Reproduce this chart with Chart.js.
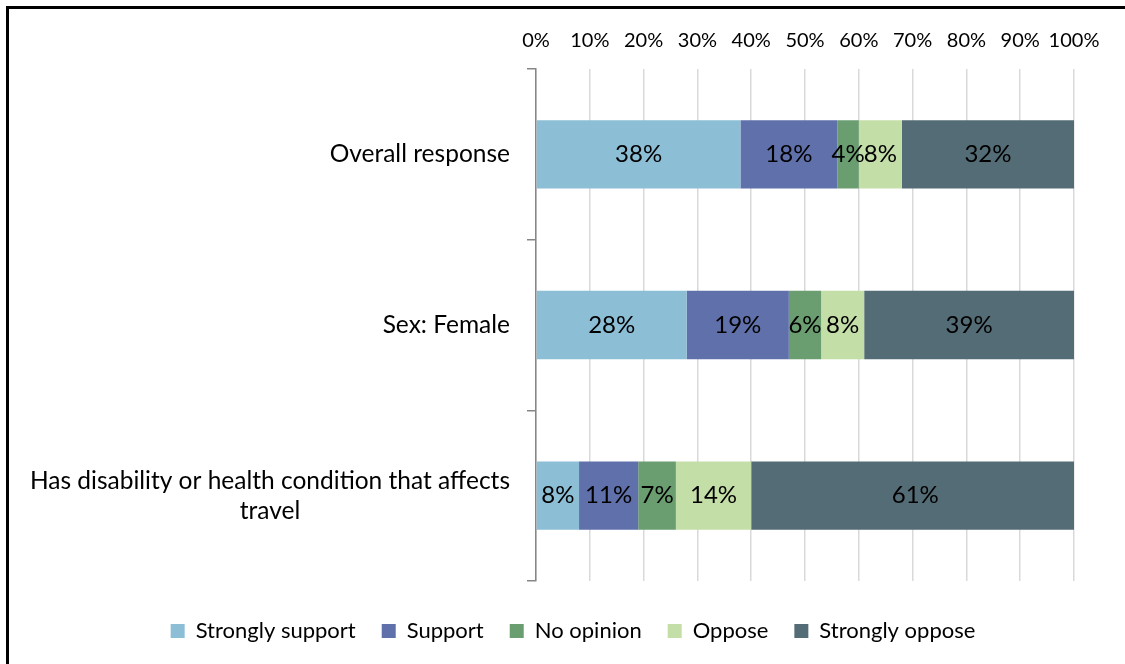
<!DOCTYPE html>
<html>
<head>
<meta charset="utf-8">
<script src="https://cdn.jsdelivr.net/npm/chart.js@4"></script>
<style>
  html, body { margin: 0; padding: 0; background: #fff; overflow: hidden; }
  #wrap { position: relative; width: 1125px; height: 664px; }
  #frame {
    position: absolute; left: 6px; top: 6px; width: 1200px; height: 700px;
    border-left: 3px solid #000; border-top: 3px solid #000;
  }
  canvas { position: absolute; left: 0; top: 0; }
</style>
</head>
<body>
<div id="wrap">
  <div id="frame"></div>
  <canvas id="chart" width="1125" height="664"></canvas>
</div>
<script>
// response groups (the long one wraps onto two lines)
const categories = [
  'Overall response',
  'Sex: Female',
  ['Has disability or health condition that affects', 'travel']
];

// percentages per answer
const stronglySupport = [38, 28, 8];
const support = [18, 19, 11];
const noOpinion = [4, 6, 7];
const oppose = [8, 8, 14];
const stronglyOppose = [32, 39, 61];

const seriesNames = ['Strongly support', 'Support', 'No opinion', 'Oppose', 'Strongly oppose'];
const seriesColors = ['#8CBED6', '#5F70AA', '#6A9E70', '#C4DEA8', '#546C75'];

const FONT = 'Lato, "Open Sans", sans-serif';
const PAD_LEFT = 72;

// value labels centred inside every segment
const segmentLabels = {
  id: 'segmentLabels',
  afterDatasetsDraw(chart) {
    const ctx = chart.ctx;
    ctx.save();
    ctx.font = '24px ' + FONT;
    ctx.fillStyle = '#000';
    ctx.textAlign = 'center';
    ctx.textBaseline = 'middle';
    chart.data.datasets.forEach((ds, i) => {
      chart.getDatasetMeta(i).data.forEach((bar, j) => {
        const x = (bar.x + bar.base) / 2;
        ctx.fillText(ds.data[j] + '%', x, bar.y);
      });
    });
    ctx.restore();
  }
};

// category labels: block right-aligned, lines centred within the block
const categoryLabels = {
  id: 'categoryLabels',
  afterDraw(chart) {
    const ctx = chart.ctx;
    const yScale = chart.scales.y;
    const right = yScale.right - 26;
    const lineHeight = 30;
    ctx.save();
    ctx.font = '24.5px ' + FONT;
    ctx.fillStyle = '#000';
    ctx.textBaseline = 'middle';
    ctx.textAlign = 'center';
    categories.forEach((label, i) => {
      const lines = Array.isArray(label) ? label : [label];
      const widest = Math.max(...lines.map(l => ctx.measureText(l).width));
      const cx = right - widest / 2;
      const y0 = yScale.getPixelForTick(i) - (lines.length - 1) * lineHeight / 2;
      lines.forEach((l, k) => ctx.fillText(l, cx, y0 + k * lineHeight));
    });
    ctx.restore();
  }
};

const datasets = [stronglySupport, support, noOpinion, oppose, stronglyOppose].map((data, i) => ({
  label: seriesNames[i],
  data: data,
  backgroundColor: seriesColors[i],
  borderWidth: 0,
  barPercentage: 0.5,
  categoryPercentage: 0.8
}));

new Chart(document.getElementById('chart'), {
  type: 'bar',
  data: { labels: categories, datasets: datasets },
  plugins: [segmentLabels, categoryLabels],
  options: {
    indexAxis: 'y',
    responsive: false,
    animation: false,
    layout: { padding: { top: 13, right: 51, bottom: 12, left: PAD_LEFT } },
    plugins: {
      tooltip: { enabled: false },
      legend: {
        position: 'bottom',
        // empty title just adds space above the legend row
        title: { display: true, text: '', font: { size: 10 }, padding: { top: 0, bottom: 1 } },
        labels: {
          boxWidth: 14,
          boxHeight: 14,
          padding: 26,
          color: '#000',
          font: { family: FONT, size: 22 }
        }
      }
    },
    scales: {
      x: {
        position: 'top',
        stacked: true,
        min: 0,
        max: 100,
        grid: { color: '#D9D9D9', lineWidth: 1.5, drawTicks: false },
        border: { display: false },
        ticks: {
          stepSize: 10,
          padding: 16,
          minRotation: 0,
          maxRotation: 0,
          autoSkip: false,
          color: '#000',
          font: { family: FONT, size: 20 },
          callback: v => v + '%'
        }
      },
      y: {
        stacked: true,
        grid: { drawOnChartArea: false, color: '#868686', lineWidth: 1.5, tickLength: 9, offset: true },
        border: { color: '#868686', width: 1.5 },
        ticks: { display: false },
        afterFit(scale) { scale.width = 536 - PAD_LEFT; }
      }
    }
  }
});
</script>
</body>
</html>
